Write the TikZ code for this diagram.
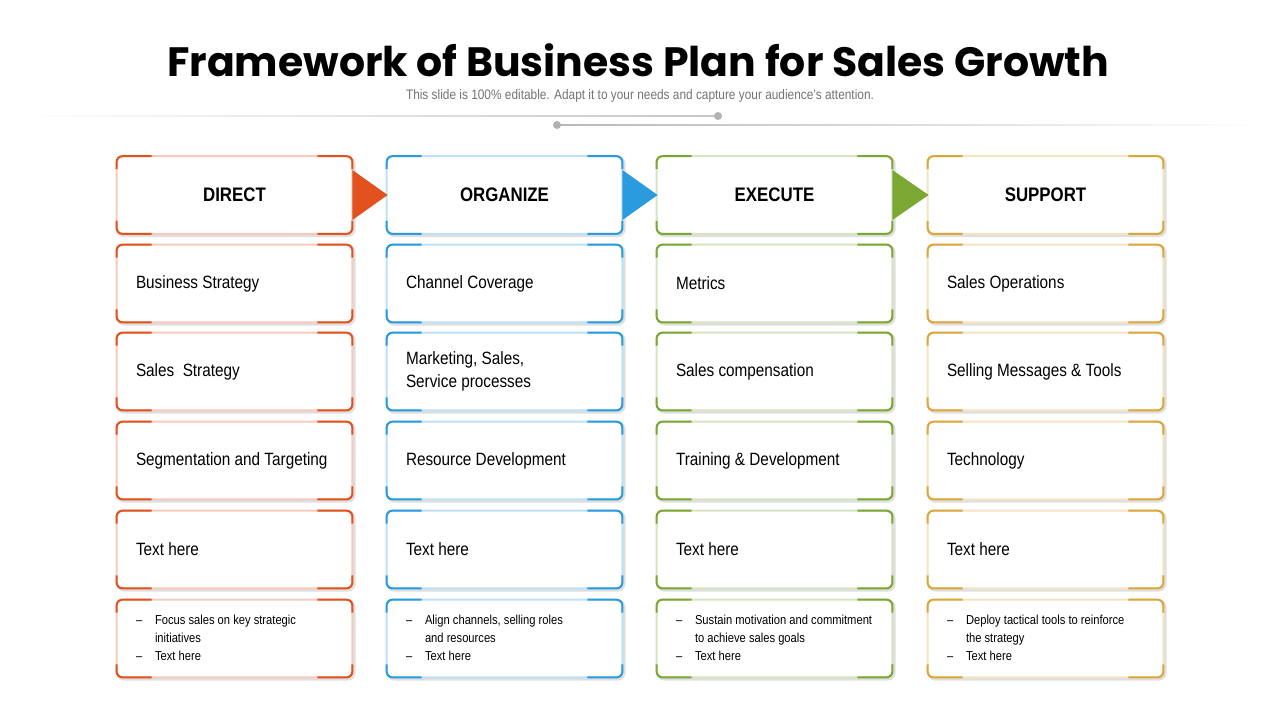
\documentclass[tikz,border=0pt]{standalone}
\usepackage{fontspec}
\setmainfont{Liberation Sans}[FakeStretch=0.86]
\newfontfamily\titlefont{Poppins}
\usetikzlibrary{positioning,calc}
\definecolor{cdir}{HTML}{E2521F}
\definecolor{corg}{HTML}{2A9BDD}
\definecolor{cexe}{HTML}{7BA733}
\definecolor{csup}{HTML}{DCA73A}

% box with light outline and dark corner pieces
\newcommand{\cframe}[2]{%
  \draw[gray!25, line width=1.6pt, rounded corners=3pt]
    ($(#1.south west)+(1.5,1.5)$) rectangle ($(#1.north east)+(1.5,1.5)$);
  \fill[white, rounded corners=3pt] (#1.south west) rectangle (#1.north east);
  \draw[#2!30, line width=1pt, rounded corners=3pt] (#1.south west) rectangle (#1.north east);
  \begin{scope}
    \clip ($(#1.north west)+(-3,-3)$) rectangle ++(38,16)
          ($(#1.north east)+(3,-3)$) rectangle ++(-38,16)
          ($(#1.south west)+(-3,3)$) rectangle ++(38,-16)
          ($(#1.south east)+(3,3)$) rectangle ++(-38,-16);
    \draw[#2, line width=1pt, rounded corners=3pt] (#1.south west) rectangle (#1.north east);
  \end{scope}}

\begin{document}
\begin{tikzpicture}[x=0.5pt, y=-0.5pt,
    cell/.style={minimum width=117.5pt, minimum height=38.5pt, inner sep=0pt},
    hd/.style={font=\bfseries\fontsize{9.8}{11}\selectfont},
    lbl/.style={anchor=west, align=left, inner sep=0pt, font=\fontsize{8.9}{11.5}\selectfont},
    bul/.style={anchor=base west, inner sep=0pt, font=\fontsize{6.5}{9}\selectfont}]
  \useasboundingbox (0,0) rectangle (1280,720);

  % title
  \node[font=\titlefont\bfseries\fontsize{20.5}{24}\selectfont] (title) at (638,60) {Framework of  Business Plan for Sales Growth};
  \node[text=gray!90!black, font=\fontsize{6.9}{8}\selectfont] (sub) at (640,96) {This slide is 100\% editable. Adapt it to your needs and capture your audience's attention.};
  \coordinate (l1a) at (20,116); \coordinate (l1b) at (718,116);
  \coordinate (l2a) at (557,125); \coordinate (l2b) at (1262,125);
  \shade[left color=white, right color=gray!45] ($(l1a)+(0,-0.8)$) rectangle ($(l1b)+(0,0.8)$);
  \shade[left color=gray!55, right color=white] ($(l2a)+(0,-0.8)$) rectangle ($(l2b)+(0,0.8)$);
  \fill[gray!60] (l1b) circle (4);
  \fill[gray!60] (l2a) circle (4);

  \foreach \c/\x/\col/\head/\ra/\rb/\rc/\ba/\bb in {
      1/117/cdir/DIRECT/{Business Strategy}/{Sales\ \ Strategy}/{Segmentation and Targeting}/{Focus sales on key strategic}/{initiatives},
      2/387/corg/ORGANIZE/{Channel Coverage}/{Marketing, Sales,\\Service processes}/{Resource Development}/{Align channels, selling roles}/{and resources},
      3/657/cexe/EXECUTE/{Metrics}/{Sales compensation}/{Training \& Development}/{Sustain motivation and commitment}/{to achieve sales goals},
      4/928/csup/SUPPORT/{Sales Operations}/{Selling Messages \& Tools}/{Technology}/{Deploy tactical tools to reinforce}/{the strategy}} {
    \node[cell] (h\c) at (\x+117.5,195) {};
    \node[cell] (a\c) at (\x+117.5,283.5) {};
    \node[cell] (b\c) at (\x+117.5,371.5) {};
    \node[cell] (r\c) at (\x+117.5,460.5) {};
    \node[cell] (t\c) at (\x+117.5,549.5) {};
    \node[cell] (n\c) at (\x+117.5,638.5) {};
    \foreach \n in {h,a,b,r,t,n} {\cframe{\n\c}{\col}}
    \node[hd] at (h\c) {\head};
    \node[lbl] at ($(a\c.west)+(19,0)$) {\ra};
    \node[lbl] at ($(b\c.west)+(19,0)$) {\rb};
    \node[lbl] at ($(r\c.west)+(19,0)$) {\rc};
    \node[lbl] at ($(t\c.west)+(19,0)$) {Text here};
    \node[bul] at ($(n\c.west)+(19,-14)$) {--};
    \node[bul] at ($(n\c.west)+(38,-14)$) {\ba};
    \node[bul] at ($(n\c.west)+(38,4)$) {\bb};
    \node[bul] at ($(n\c.west)+(19,22)$) {--};
    \node[bul] at ($(n\c.west)+(38,22)$) {Text here};
  }
  % arrows between the headers
  \foreach \p/\q/\col in {1/2/cdir, 2/3/corg, 3/4/cexe}
    \fill[\col] ($(h\p.east)+(0,-25)$) -- ($(h\q.west)+(1,0)$) -- ($(h\p.east)+(0,25)$) -- cycle;
\end{tikzpicture}
\end{document}
